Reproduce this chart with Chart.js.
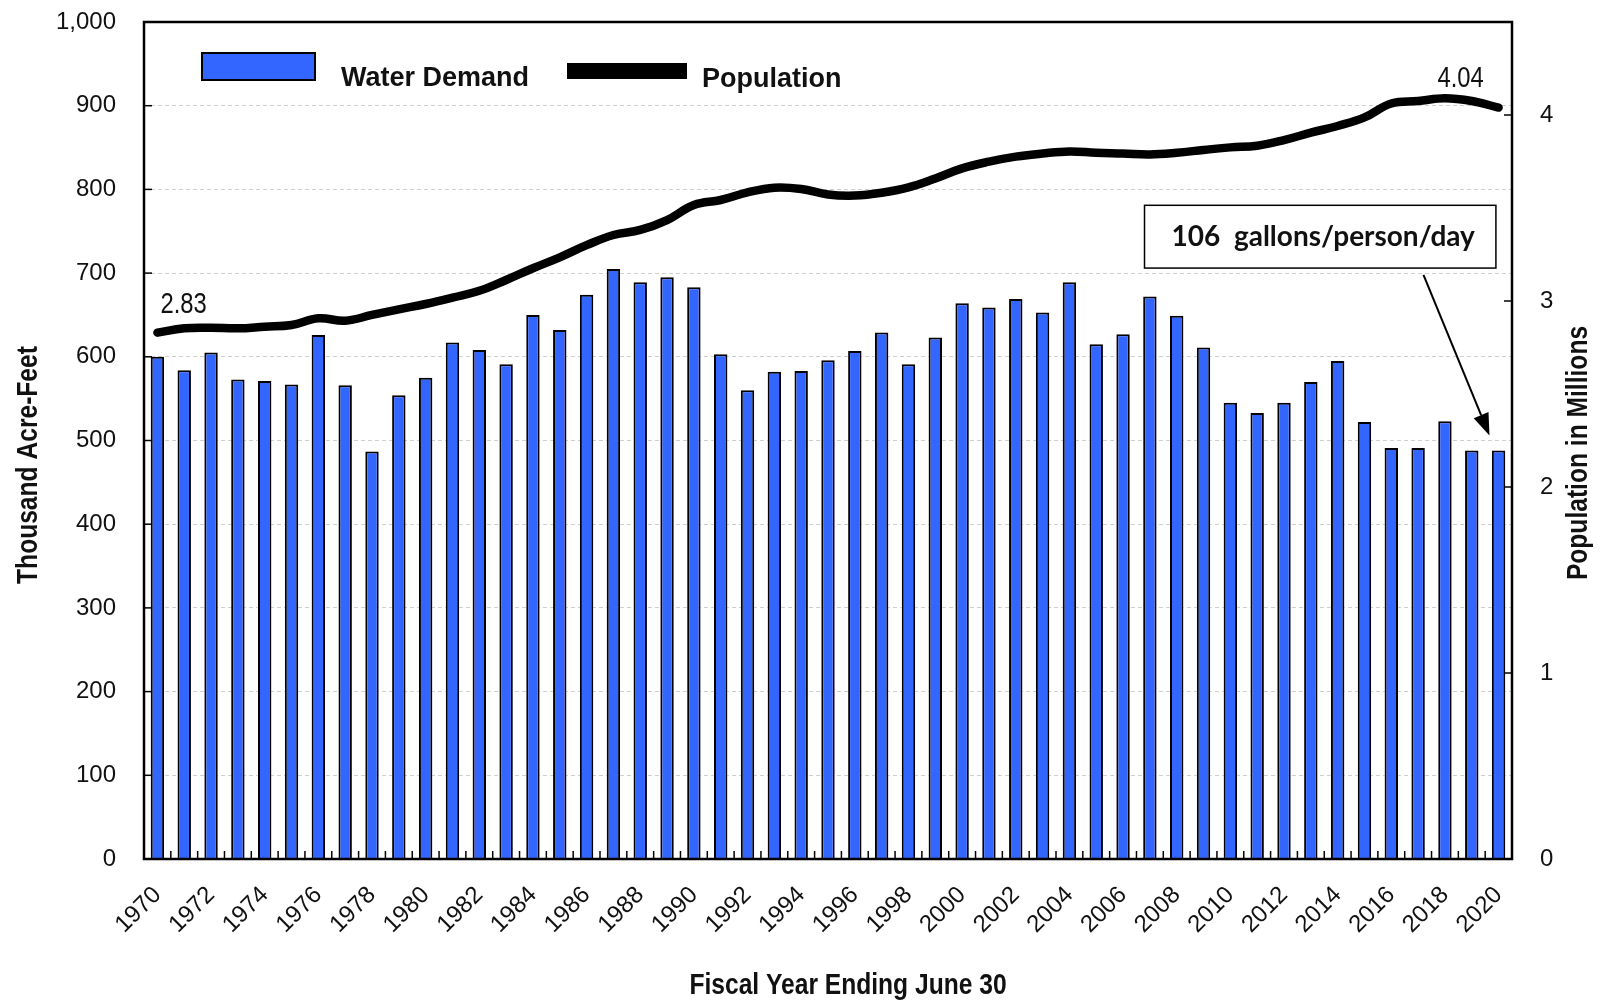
<!DOCTYPE html>
<html>
  <head>
    <meta charset="utf-8" />
    <title>Water Demand and Population</title>
    <script src="https://cdn.jsdelivr.net/npm/chart.js@4.4.1/dist/chart.umd.min.js"></script>
    <style>
      html, body { margin: 0; padding: 0; background: #fff; }
    </style>
  </head>
  <body>
    <canvas id="myChart" width="1614" height="1004"></canvas>
    <script>
      const years = [
        1970, 1971, 1972, 1973, 1974, 1975, 1976, 1977, 1978, 1979,
        1980, 1981, 1982, 1983, 1984, 1985, 1986, 1987, 1988, 1989,
        1990, 1991, 1992, 1993, 1994, 1995, 1996, 1997, 1998, 1999,
        2000, 2001, 2002, 2003, 2004, 2005, 2006, 2007, 2008, 2009,
        2010, 2011, 2012, 2013, 2014, 2015, 2016, 2017, 2018, 2019, 2020,
      ];
      // thousand acre-feet
      const waterDemand = [
        600, 584, 605, 573, 571, 567, 626, 566, 487, 554,
        575, 617, 608, 591, 650, 632, 674, 705, 689, 695,
        683, 603, 560, 582, 583, 596, 607, 629, 591, 623,
        664, 659, 669, 653, 689, 615, 627, 672, 649, 611,
        545, 533, 545, 570, 595, 522, 491, 491, 523, 488, 488,
      ];
      // millions
      const population = [
        2.83, 2.853, 2.856, 2.853, 2.862, 2.871, 2.907, 2.894, 2.925, 2.955,
        2.984, 3.018, 3.055, 3.113, 3.176, 3.235, 3.30, 3.355, 3.382, 3.435,
        3.516, 3.543, 3.584, 3.609, 3.602, 3.573, 3.567, 3.582, 3.611, 3.659,
        3.713, 3.749, 3.776, 3.793, 3.804, 3.797, 3.793, 3.788, 3.797, 3.812,
        3.826, 3.835, 3.865, 3.905, 3.941, 3.987, 4.062, 4.075, 4.09, 4.075, 4.04,
      ];
      const noteText = "106  gallons/person/day";

      const ARIAL = "'Liberation Sans', Arial, sans-serif";
      const BLUE = "#3366ff";

      function line(ctx, x1, y1, x2, y2) {
        ctx.beginPath();
        ctx.moveTo(x1, y1);
        ctx.lineTo(x2, y2);
        ctx.stroke();
      }

      // Arial Narrow look-alike: squeeze Liberation Sans horizontally
      function narrowText(ctx, text, x, y, font, align, rot) {
        ctx.save();
        ctx.translate(x, y);
        if (rot) ctx.rotate(rot);
        ctx.scale(0.82, 1);
        ctx.font = font;
        ctx.textAlign = align;
        ctx.fillText(text, 0, 0);
        ctx.restore();
      }

      // keep the plot box where the original has it
      function fixVertical(width) {
        return (s) => {
          s.width = width;
          s.paddingTop = 0;
          s.paddingBottom = 0;
        };
      }

      const decor = {
        id: "decor",
        afterDraw(chart) {
          const { ctx, chartArea: a } = chart;
          const { x, y, yPop } = chart.scales;
          ctx.save();

          // small inward tick marks
          ctx.strokeStyle = "#000";
          ctx.lineWidth = 1.5;
          y.ticks.forEach((t, i) => {
            const py = y.getPixelForTick(i);
            line(ctx, a.left, py, a.left + 8, py);
          });
          yPop.ticks.forEach((t, i) => {
            const py = yPop.getPixelForTick(i);
            line(ctx, a.right - 8, py, a.right, py);
          });
          const half = (x.getPixelForValue(1) - x.getPixelForValue(0)) / 2;
          for (let i = 0; i <= years.length; i++) {
            const px = x.getPixelForValue(i) - half;
            line(ctx, px, a.bottom - 8, px, a.bottom);
          }

          // frame
          ctx.lineWidth = 2.5;
          ctx.strokeRect(a.left, a.top, a.right - a.left, a.bottom - a.top);

          // axis titles
          ctx.fillStyle = "#111";
          ctx.textBaseline = "middle";
          const tf = "bold 30px " + ARIAL;
          narrowText(ctx, "Thousand Acre-Feet", 29, 465, tf, "center", -Math.PI / 2);
          narrowText(ctx, "Population in Millions", 1579, 453, tf, "center", -Math.PI / 2);
          narrowText(ctx, "Fiscal Year Ending June 30", 848, 986, tf, "center", 0);

          // legend
          ctx.fillStyle = BLUE;
          ctx.fillRect(a.left + 58, 53, 113, 27);
          ctx.lineWidth = 2;
          ctx.strokeRect(a.left + 58, 53, 113, 27);
          ctx.fillStyle = "#000";
          ctx.fillRect(567, 63, 120, 16);
          ctx.fillStyle = "#111";
          ctx.font = "bold 27px " + ARIAL;
          ctx.textAlign = "left";
          ctx.textBaseline = "alphabetic";
          ctx.fillText("Water Demand", 341, 86);
          ctx.fillText("Population", 702, 87);

          // first / last population labels
          const pts = chart.getDatasetMeta(0).data;
          const first = pts[0];
          const last = pts[pts.length - 1];
          const lf = "29px " + ARIAL;
          narrowText(ctx, population[0].toFixed(2), first.x + 3, first.y - 20, lf, "left", 0);
          narrowText(ctx, population[population.length - 1].toFixed(2), last.x - 38, last.y - 21, lf, "center", 0);

          // note box
          const bl = x.getPixelForValue(36.8);
          const br = x.getPixelForValue(49.9);
          const bt = y.getPixelForValue(781);
          const bb = y.getPixelForValue(706);
          ctx.fillStyle = "#fff";
          ctx.fillRect(bl, bt, br - bl, bb - bt);
          ctx.lineWidth = 1.5;
          ctx.strokeRect(bl, bt, br - bl, bb - bt);
          ctx.fillStyle = "#111";
          ctx.font = "bold 28px Lato, 'Open Sans', sans-serif";
          ctx.textAlign = "center";
          ctx.fillText(noteText, (bl + br) / 2 + 3, bt + 41);

          // arrow
          const sx = x.getPixelForValue(47.2);
          const sy = y.getPixelForValue(698);
          const tx = x.getPixelForValue(49.66);
          const ty = y.getPixelForValue(506);
          const ang = Math.atan2(ty - sy, tx - sx);
          const hl = 22, hw = 8;
          const bx = tx - hl * Math.cos(ang);
          const by = ty - hl * Math.sin(ang);
          ctx.lineWidth = 2;
          line(ctx, sx, sy, bx, by);
          ctx.fillStyle = "#000";
          ctx.beginPath();
          ctx.moveTo(tx, ty);
          ctx.lineTo(bx + hw * Math.sin(ang), by - hw * Math.cos(ang));
          ctx.lineTo(bx - hw * Math.sin(ang), by + hw * Math.cos(ang));
          ctx.closePath();
          ctx.fill();

          ctx.restore();
        },
      };

      const tickFont = { family: ARIAL, size: 24 };

      const config = {
        data: {
          labels: years,
          datasets: [
            {
              type: "line",
              label: "Population",
              data: population,
              yAxisID: "yPop",
              borderColor: "#000",
              borderWidth: 8.5,
              pointRadius: 0,
              tension: 0.4,
              borderCapStyle: "round",
              borderJoinStyle: "round",
              order: 1,
            },
            {
              type: "bar",
              label: "Water Demand",
              data: waterDemand,
              yAxisID: "y",
              backgroundColor: BLUE,
              borderColor: "#000",
              borderWidth: 2,
              barPercentage: 0.5,
              categoryPercentage: 1,
              order: 2,
            },
          ],
        },
        options: {
          responsive: false,
          animation: false,
          layout: { autoPadding: false, padding: { top: 22, left: 0, right: 0, bottom: 0 } },
          plugins: {
            legend: { display: false },
            tooltip: { enabled: false },
          },
          scales: {
            x: {
              offset: true,
              grid: { display: false },
              border: { display: false },
              ticks: {
                autoSkip: false,
                maxRotation: 45,
                minRotation: 45,
                padding: 14,
                color: "#111",
                font: tickFont,
                callback: (v, i) => (i % 2 === 0 ? years[i] : ""),
              },
              afterFit: (s) => {
                s.height = 145;
                s.paddingLeft = 0;
                s.paddingRight = 0;
              },
            },
            y: {
              position: "left",
              min: 0,
              max: 1000,
              ticks: { stepSize: 100, padding: 28, color: "#111", font: tickFont },
              grid: { color: "#cfcfcf", lineWidth: 1, drawTicks: false },
              border: { display: false, dash: [4, 3] },
              afterFit: fixVertical(144),
            },
            yPop: {
              position: "right",
              min: 0,
              max: 4.5,
              ticks: { stepSize: 1, padding: 28, color: "#111", font: tickFont },
              grid: { display: false, drawTicks: false },
              border: { display: false },
              afterBuildTicks: (s) => {
                s.ticks = s.ticks.filter((t) => Number.isInteger(t.value));
              },
              afterFit: fixVertical(102),
            },
          },
        },
        plugins: [decor],
      };

      const ctx = document.getElementById("myChart");
      const myChart = new Chart(ctx, config);
    </script>
  </body>
</html>
